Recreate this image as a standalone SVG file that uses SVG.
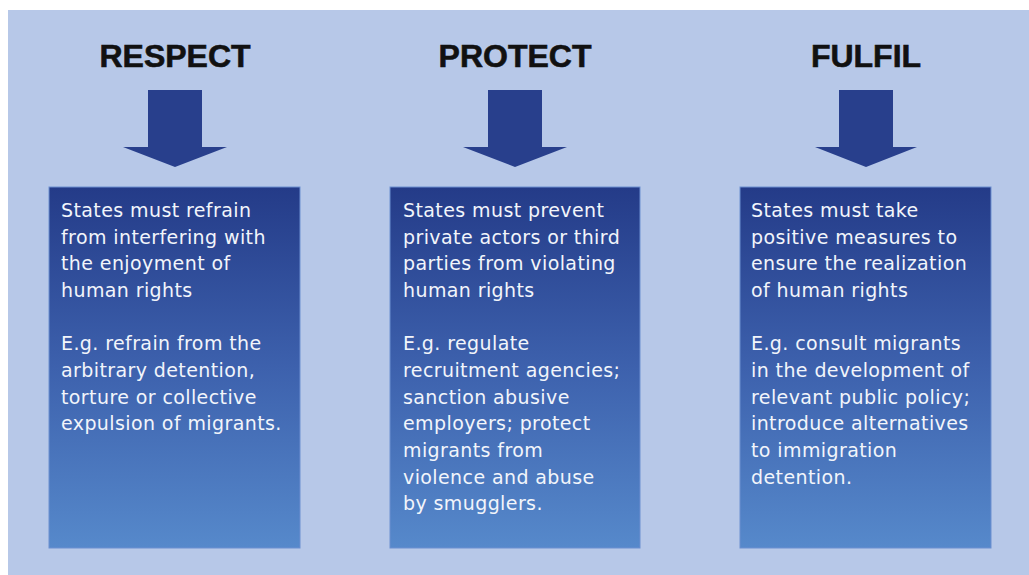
<svg xmlns="http://www.w3.org/2000/svg" width="1029" height="575" viewBox="0 0 1029 575">
<defs>
<linearGradient id="boxg" x1="0" y1="0" x2="0" y2="1">
<stop offset="0" stop-color="#243b88"/>
<stop offset="0.5" stop-color="#3d61ad"/>
<stop offset="1" stop-color="#5689cb"/>
</linearGradient>
</defs>
<style>
.title{font-family:"Liberation Sans",Arial,sans-serif;font-weight:bold;font-size:32px;fill:#111;stroke:#111;stroke-width:0.6;text-anchor:middle}
.body{font-family:"DejaVu Sans","Liberation Sans",sans-serif;font-size:19px;letter-spacing:0.4px;fill:#f2f5fb}
.box{fill:url(#boxg);stroke:#6d8fd0;stroke-width:1}
.arrow{fill:#283f8c}
</style>
<rect x="0" y="0" width="1029" height="575" fill="#ffffff"/>
<rect x="8" y="10" width="1021" height="565" fill="#b7c8e8"/>
<g id="connectors">
<polygon class="arrow" points="148,90 202,90 202,147 227,147 175,167 123,147 148,147"/>
<polygon class="arrow" points="488,90 542,90 542,147 567,147 515,167 463,147 488,147"/>
<polygon class="arrow" points="839,90 893,90 893,147 917,147 866,167 815,147 839,147"/>
</g>
<g id="respect">
<text class="title" x="175" y="67">RESPECT</text>
<rect class="box" x="49" y="187" width="251" height="361"/>
<text class="body">
<tspan x="61" y="217">States must refrain</tspan>
<tspan x="61" y="243.7">from interfering with</tspan>
<tspan x="61" y="270.3">the enjoyment of</tspan>
<tspan x="61" y="297">human rights</tspan>
<tspan x="61" y="350.3">E.g. refrain from the</tspan>
<tspan x="61" y="377">arbitrary detention,</tspan>
<tspan x="61" y="403.7">torture or collective</tspan>
<tspan x="61" y="430.3">expulsion of migrants.</tspan>
</text>
</g>
<g id="protect">
<text class="title" x="515" y="67">PROTECT</text>
<rect class="box" x="390" y="187" width="250" height="361"/>
<text class="body">
<tspan x="403" y="217">States must prevent</tspan>
<tspan x="403" y="243.7">private actors or third</tspan>
<tspan x="403" y="270.3">parties from violating</tspan>
<tspan x="403" y="297">human rights</tspan>
<tspan x="403" y="350.3">E.g. regulate</tspan>
<tspan x="403" y="377">recruitment agencies;</tspan>
<tspan x="403" y="403.7">sanction abusive</tspan>
<tspan x="403" y="430.3">employers; protect</tspan>
<tspan x="403" y="457">migrants from</tspan>
<tspan x="403" y="483.7">violence and abuse</tspan>
<tspan x="403" y="510.3">by smugglers.</tspan>
</text>
</g>
<g id="fulfil">
<text class="title" x="866" y="67">FULFIL</text>
<rect class="box" x="740" y="187" width="251" height="361"/>
<text class="body">
<tspan x="751" y="217">States must take</tspan>
<tspan x="751" y="243.7">positive measures to</tspan>
<tspan x="751" y="270.3">ensure the realization</tspan>
<tspan x="751" y="297">of human rights</tspan>
<tspan x="751" y="350.3">E.g. consult migrants</tspan>
<tspan x="751" y="377">in the development of</tspan>
<tspan x="751" y="403.7">relevant public policy;</tspan>
<tspan x="751" y="430.3">introduce alternatives</tspan>
<tspan x="751" y="457">to immigration</tspan>
<tspan x="751" y="483.7">detention.</tspan>
</text>
</g>
</svg>
